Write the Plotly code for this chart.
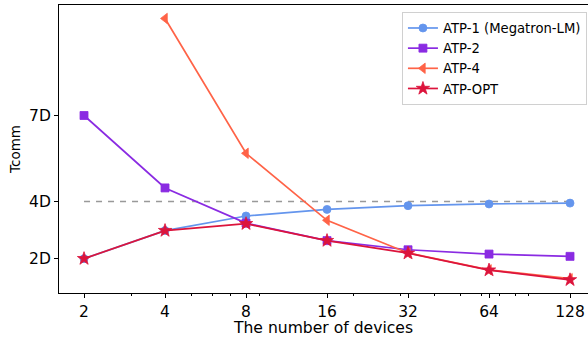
import math
import plotly.graph_objects as go

devices = [2, 4, 8, 16, 32, 64, 128]
atp1 = [2.0, 2.98, 3.49, 3.72, 3.85, 3.91, 3.94]
atp2 = [7.0, 4.47, 3.24, 2.63, 2.31, 2.16, 2.08]
atp4_devices = [4, 8, 16, 32, 64, 128]
atp4 = [10.39, 5.68, 3.34, 2.20, 1.61, 1.30]
atpopt = [2.0, 2.98, 3.22, 2.63, 2.19, 1.60, 1.26]
ref_x = [2, 128]
ref_y = [4, 4]
y_ticks = [2, 4, 7]
y_ticktext = ["2D", "4D", "7D"]
x_ticks = [2, 4, 8, 16, 32, 64, 128]
x_minor = [3, 5, 6, 7, 9, 20, 30, 40, 50, 60, 70, 80, 90]

FONT = "DejaVu Sans"
fig = go.Figure()

fig.add_trace(go.Scatter(x=ref_x, y=ref_y, mode="lines", showlegend=False,
                         line=dict(color="#999999", width=1.5, dash="6px,6px"),
                         hoverinfo="skip"))

series = [
    ("ATP-1 (Megatron-LM)", devices, atp1, "#6495ED", "circle", 8),
    ("ATP-2", devices, atp2, "#8A2BE2", "square", 8),
    ("ATP-4", atp4_devices, atp4, "#FF6347", "triangle-left", 9),
    ("ATP-OPT", devices, atpopt, "#DC143C", "star", 10),
]
for name, xs, ys, col, sym, ms in series:
    fig.add_trace(go.Scatter(
        x=xs, y=ys, mode="lines+markers", name=name,
        line=dict(color=col, width=1.7),
        marker=dict(symbol=sym, size=ms, color=col,
                    line=dict(width=0.8, color=col)),
    ))

lg2 = math.log10(2)
fig.update_layout(
    width=588, height=337,
    margin=dict(l=59, r=0, t=5, b=44),
    paper_bgcolor="white", plot_bgcolor="white",
    font=dict(family=FONT, size=15.5, color="black"),
    legend=dict(x=0.998, y=0.976, xanchor="right", yanchor="top",
                bgcolor="rgba(255,255,255,0.8)", bordercolor="#d0d0d0",
                borderwidth=1, font=dict(family=FONT, size=13.2),
                tracegroupgap=0, itemwidth=30),
    xaxis=dict(
        type="log", range=[0.691 * lg2, 7.222 * lg2], automargin=False,
        tickvals=x_ticks, ticktext=[str(v) for v in x_ticks],
        ticks="outside", ticklen=4, tickwidth=1, tickcolor="black",
        showline=True, linecolor="black", linewidth=1, mirror=True,
        showgrid=False, zeroline=False,
        title=dict(text="The number of devices", standoff=9,
                   font=dict(family=FONT, size=15.6)),
        minor=dict(tickvals=x_minor, ticks="outside", ticklen=2,
                   tickwidth=0.8, tickcolor="black", showgrid=False),
    ),
    yaxis=dict(
        range=[0.80, 10.86], automargin=False,
        tickvals=y_ticks, ticktext=y_ticktext,
        ticks="outside", ticklen=4, tickwidth=1, tickcolor="black",
        showline=True, linecolor="black", linewidth=1, mirror=False,
        showgrid=False, zeroline=False,
        title=dict(text="Tcomm", standoff=5,
                   font=dict(family=FONT, size=13.5)),
    ),
)

fig.write_html("out.html", config={"displayModeBar": False},
               post_script="document.body.style.margin='0px';document.body.style.overflow='hidden';")
